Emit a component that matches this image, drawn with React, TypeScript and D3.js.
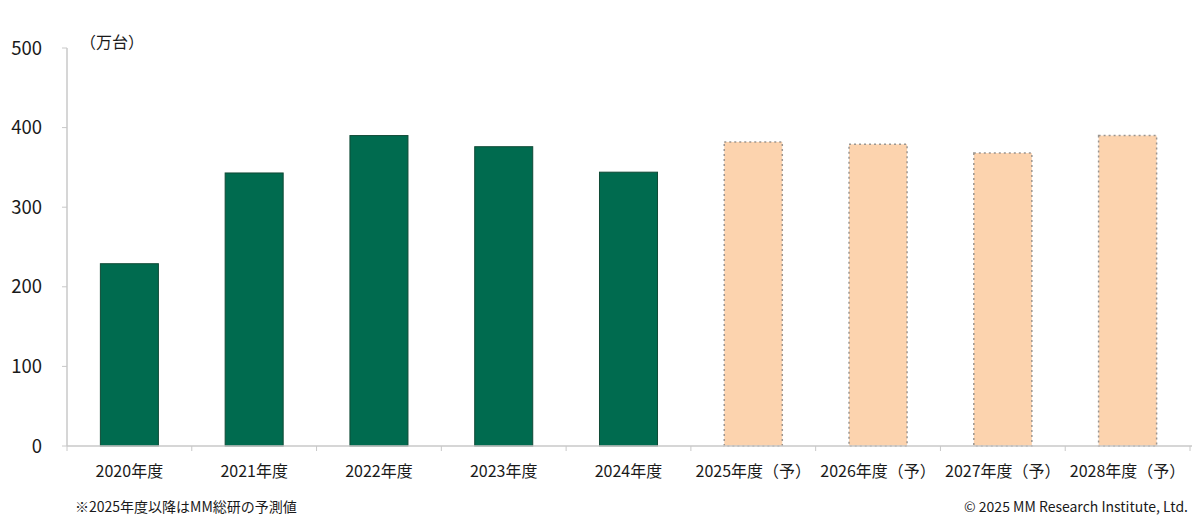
import { useEffect, useRef } from "react";
import * as d3 from "d3";

const W = 1200;
const H = 532;
const M = { top: 48, right: 10, bottom: 86, left: 67 };

const years = ["2020年度", "2021年度", "2022年度", "2023年度", "2024年度", "2025年度（予）", "2026年度（予）", "2027年度（予）", "2028年度（予）"];
const units = [229, 343, 390, 376, 344, 382, 379, 368, 390];
const isForecast = [false, false, false, false, false, true, true, true, true];
const yTicks = [0, 100, 200, 300, 400, 500];

const FONT = "'Noto Sans CJK JP', 'Noto Sans', sans-serif";

export default function App() {
  const svgRef = useRef<SVGSVGElement>(null);

  useEffect(() => {
    if (!svgRef.current) return;
    const root = d3.select(svgRef.current);
    root.selectAll("*").remove();

    const innerW = W - M.left - M.right;
    const innerH = H - M.top - M.bottom;

    const x = d3.scaleBand<string>().domain(years).range([0, innerW]).paddingInner(0.535).paddingOuter(0.2675);
    const xTick = d3.scaleBand<string>().domain(years).range([0, innerW]);
    const y = d3.scaleLinear().domain([0, 500]).range([innerH, 0]);

    const svg = root.append("g").attr("transform", `translate(${M.left},${M.top})`);

    // bars
    years.forEach((yr, i) => {
      const fc = isForecast[i];
      svg
        .append("rect")
        .attr("x", x(yr)!)
        .attr("y", y(units[i]))
        .attr("width", x.bandwidth())
        .attr("height", y(0) - y(units[i]))
        .attr("fill", fc ? "#fcd3ae" : "#006b4f")
        .attr("stroke", fc ? "#9a9590" : "#0f4a36")
        .attr("stroke-width", fc ? 1.5 : 1)
        .attr("stroke-dasharray", fc ? "2,3" : null);
    });

    // y axis
    svg
      .append("line")
      .attr("x1", 0)
      .attr("x2", 0)
      .attr("y1", y(500))
      .attr("y2", y(0))
      .attr("stroke", "#c8c8c8")
      .attr("stroke-width", 1.5);
    yTicks.forEach((t) => {
      svg
        .append("line")
        .attr("x1", -5)
        .attr("x2", 0)
        .attr("y1", y(t))
        .attr("y2", y(t))
        .attr("stroke", "#c8c8c8");
      svg
        .append("text")
        .attr("x", -25)
        .attr("y", y(t))
        .attr("dy", "0.36em")
        .attr("text-anchor", "end")
        .attr("font-family", FONT)
        .attr("font-size", 18.5)
        .attr("fill", "#1a1a1a")
        .text(t);
    });

    // x axis
    svg
      .append("line")
      .attr("x1", 0)
      .attr("x2", innerW + 2)
      .attr("y1", y(0))
      .attr("y2", y(0))
      .attr("stroke", "#c8c8c8")
      .attr("stroke-width", 1.5);
    [...years.map((yr) => xTick(yr)!), innerW].forEach((px) => {
      svg
        .append("line")
        .attr("x1", px)
        .attr("x2", px)
        .attr("y1", y(0))
        .attr("y2", y(0) + 5)
        .attr("stroke", "#c8c8c8");
    });
    years.forEach((yr) => {
      svg
        .append("text")
        .attr("x", xTick(yr)! + xTick.bandwidth() / 2)
        .attr("y", y(0) + 31)
        .attr("text-anchor", "middle")
        .attr("font-family", FONT)
        .attr("font-size", 16)
        .attr("fill", "#1a1a1a")
        .text(yr);
    });

    // unit label
    root
      .append("text")
      .attr("x", 80)
      .attr("y", 48)
      .attr("font-family", FONT)
      .attr("font-size", 16)
      .attr("fill", "#1a1a1a")
      .text("（万台）");

    // footnotes
    root
      .append("text")
      .attr("x", 75)
      .attr("y", 512)
      .attr("font-family", FONT)
      .attr("font-size", 14)
      .attr("fill", "#1a1a1a")
      .text("※2025年度以降はMM総研の予測値");

    root
      .append("text")
      .attr("x", 1188)
      .attr("y", 512)
      .attr("text-anchor", "end")
      .attr("font-family", FONT)
      .attr("font-size", 14)
      .attr("fill", "#1a1a1a")
      .text("© 2025 MM Research Institute, Ltd.");
  }, []);

  return (
    <svg
      ref={svgRef}
      width={W}
      height={H}
      viewBox={`0 0 ${W} ${H}`}
      style={{ position: "absolute", left: 0, top: 0, background: "#fff" }}
    />
  );
}
